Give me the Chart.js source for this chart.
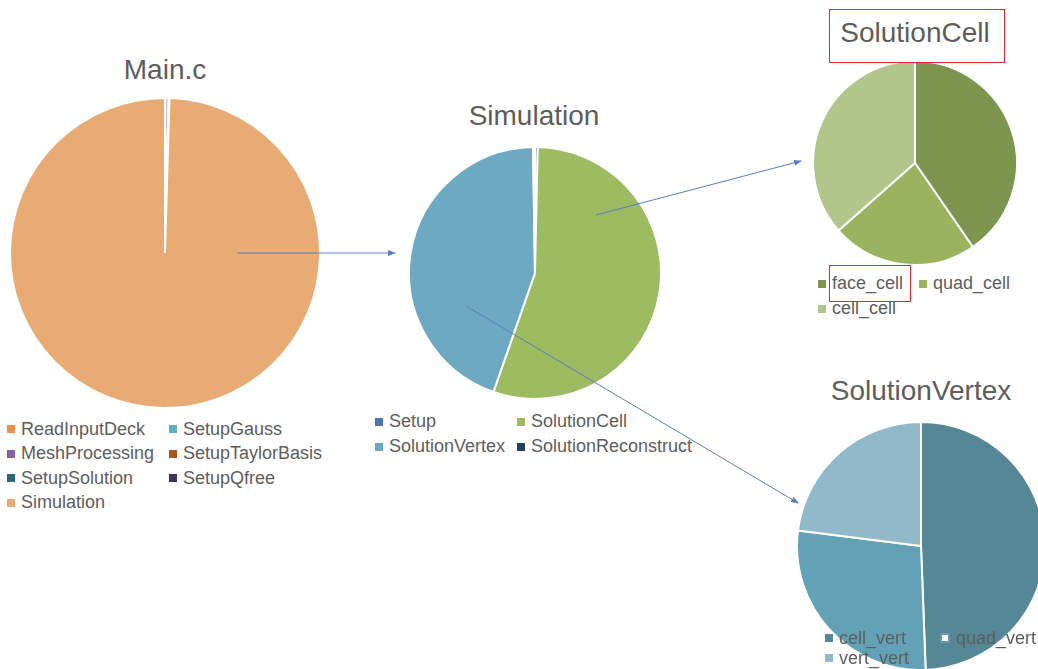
<!DOCTYPE html>
<html>
<head>
<meta charset="utf-8">
<script src="https://cdn.jsdelivr.net/npm/chart.js@4.4.0/dist/chart.umd.min.js"></script>
<style>
  body { margin: 0; width: 1038px; height: 669px; overflow: hidden; background: #fff; position: relative;
         font-family: "Liberation Sans", Arial, sans-serif; color: #5d5d5d; }
  canvas.pie { position: absolute; }
  .title { position: absolute; font-size: 28px; line-height: 32px; white-space: nowrap; transform: translateX(-50%); }
  .legend { position: absolute; display: grid; font-size: 18px; }
  .legend .item { display: flex; align-items: center; white-space: nowrap; }
  .legend .sw { width: 8px; height: 8px; margin-right: 6px; box-sizing: border-box; flex: none; }
  .box { position: absolute; border: 1.5px solid #E0262C; box-sizing: border-box; }
  svg.arrows { position: absolute; left: 0; top: 0; }
</style>
</head>
<body>

<div class="title" style="left:165px; top:54px;">Main.c</div>
<div class="title" style="left:534px; top:100px;">Simulation</div>
<div class="title" style="left:915px; top:17px;">SolutionCell</div>
<div class="title" style="left:921px; top:375px;">SolutionVertex</div>

<canvas class="pie" id="mainPie" width="312" height="312" style="left:9px; top:97px;"></canvas>
<canvas class="pie" id="simPie" width="254" height="254" style="left:408px; top:146px;"></canvas>
<canvas class="pie" id="cellPie" width="206" height="206" style="left:812px; top:60px;"></canvas>
<canvas class="pie" id="vertPie" width="250" height="250" style="left:796px; top:421px;"></canvas>

<div class="legend" id="mainLegend"></div>
<div class="legend" id="simLegend"></div>
<div class="legend" id="cellLegend"></div>
<div class="legend" id="vertLegend"></div>

<div class="box" style="left:829px; top:9px; width:176px; height:54px;"></div>
<div class="box" style="left:829px; top:265px; width:82px; height:37px;"></div>

<svg class="arrows" width="1038" height="669">
  <defs>
    <marker id="head" markerWidth="8" markerHeight="8" refX="7" refY="4" orient="auto" markerUnits="userSpaceOnUse">
      <path d="M0,1 L8,4 L0,7 Z" fill="#5B7DBE"/>
    </marker>
  </defs>
  <g stroke="#5B7DBE" stroke-width="1" fill="none" marker-end="url(#head)">
    <line x1="237" y1="253" x2="395" y2="253"/>
    <line x1="596" y1="215" x2="801" y2="161"/>
    <line x1="466" y1="306" x2="798" y2="503"/>
  </g>
</svg>

<script>
// Main.c breakdown
const mainLabels = ['ReadInputDeck', 'SetupGauss', 'MeshProcessing', 'SetupTaylorBasis', 'SetupSolution', 'SetupQfree', 'Simulation'];
const mainValues = [0.05, 0.02, 0.3, 0.02, 0.05, 0.02, 99.54];

// Simulation breakdown
const simLabels = ['Setup', 'SolutionCell', 'SolutionVertex', 'SolutionReconstruct'];
const simValues = [0.35, 55.0, 44.4, 0.25];

// SolutionCell breakdown
const cellLabels = ['face_cell', 'quad_cell', 'cell_cell'];
const cellValues = [40.4, 23.1, 36.5];

// SolutionVertex breakdown
const vertLabels = ['cell_vert', 'quad_vert', 'vert_vert'];
const vertValues = [49.4, 27.6, 23.0];

// colours
const mainColors = ['#E8914F', '#5FAFC8', '#7F62A6', '#A9561E', '#2E6676', '#3F3458', '#E9AB74'];
const simColors = ['#4F74B4', '#9DBB61', '#6EA9C4', '#243F66'];
const cellColors = ['#7E9550', '#9BB35E', '#B2C58B'];
const vertColors = ['#568797', '#63A2B6', '#92B9CA'];

function drawPie(id, labels, values, colors) {
  new Chart(document.getElementById(id), {
    type: 'pie',
    data: {
      labels,
      datasets: [{
        data: values,
        backgroundColor: colors,
        borderColor: '#fff',
        borderWidth: 2,
        hoverOffset: 0,
        offset: 0
      }]
    },
    options: {
      responsive: false,
      animation: false,
      events: [],
      layout: { padding: 0 },
      plugins: { legend: { display: false }, tooltip: { enabled: false } }
    }
  });
}

// grid legend: items flow row by row, two columns
function buildLegend(id, labels, colors, pos, swatchStyle) {
  const el = document.getElementById(id);
  el.style.left = pos.left + 'px';
  el.style.top = pos.top + 'px';
  el.style.gridTemplateColumns = pos.col + 'px auto';
  el.style.gridAutoRows = pos.row + 'px';
  labels.forEach((label, i) => {
    const item = document.createElement('div');
    item.className = 'item';
    const sw = document.createElement('span');
    sw.className = 'sw';
    sw.style.background = colors[i];
    if (swatchStyle && swatchStyle[i]) Object.assign(sw.style, swatchStyle[i]);
    const txt = document.createElement('span');
    txt.textContent = label;
    item.appendChild(sw);
    item.appendChild(txt);
    el.appendChild(item);
  });
}

drawPie('mainPie', mainLabels, mainValues, mainColors);
drawPie('simPie', simLabels, simValues, simColors);
drawPie('cellPie', cellLabels, cellValues, cellColors);
drawPie('vertPie', vertLabels, vertValues, vertColors);

buildLegend('mainLegend', mainLabels, mainColors, { left: 7, top: 417, col: 162, row: 24.5 });
buildLegend('simLegend', simLabels, simColors, { left: 375, top: 409, col: 142, row: 25 });
buildLegend('cellLegend', cellLabels, cellColors, { left: 818, top: 271, col: 101, row: 25 });
buildLegend('vertLegend', vertLabels, vertColors, { left: 825, top: 628, col: 115, row: 20 },
  { 1: { background: '#fff', border: '2px solid #6A98A8', width: '10px', height: '10px' } });
</script>
</body>
</html>
